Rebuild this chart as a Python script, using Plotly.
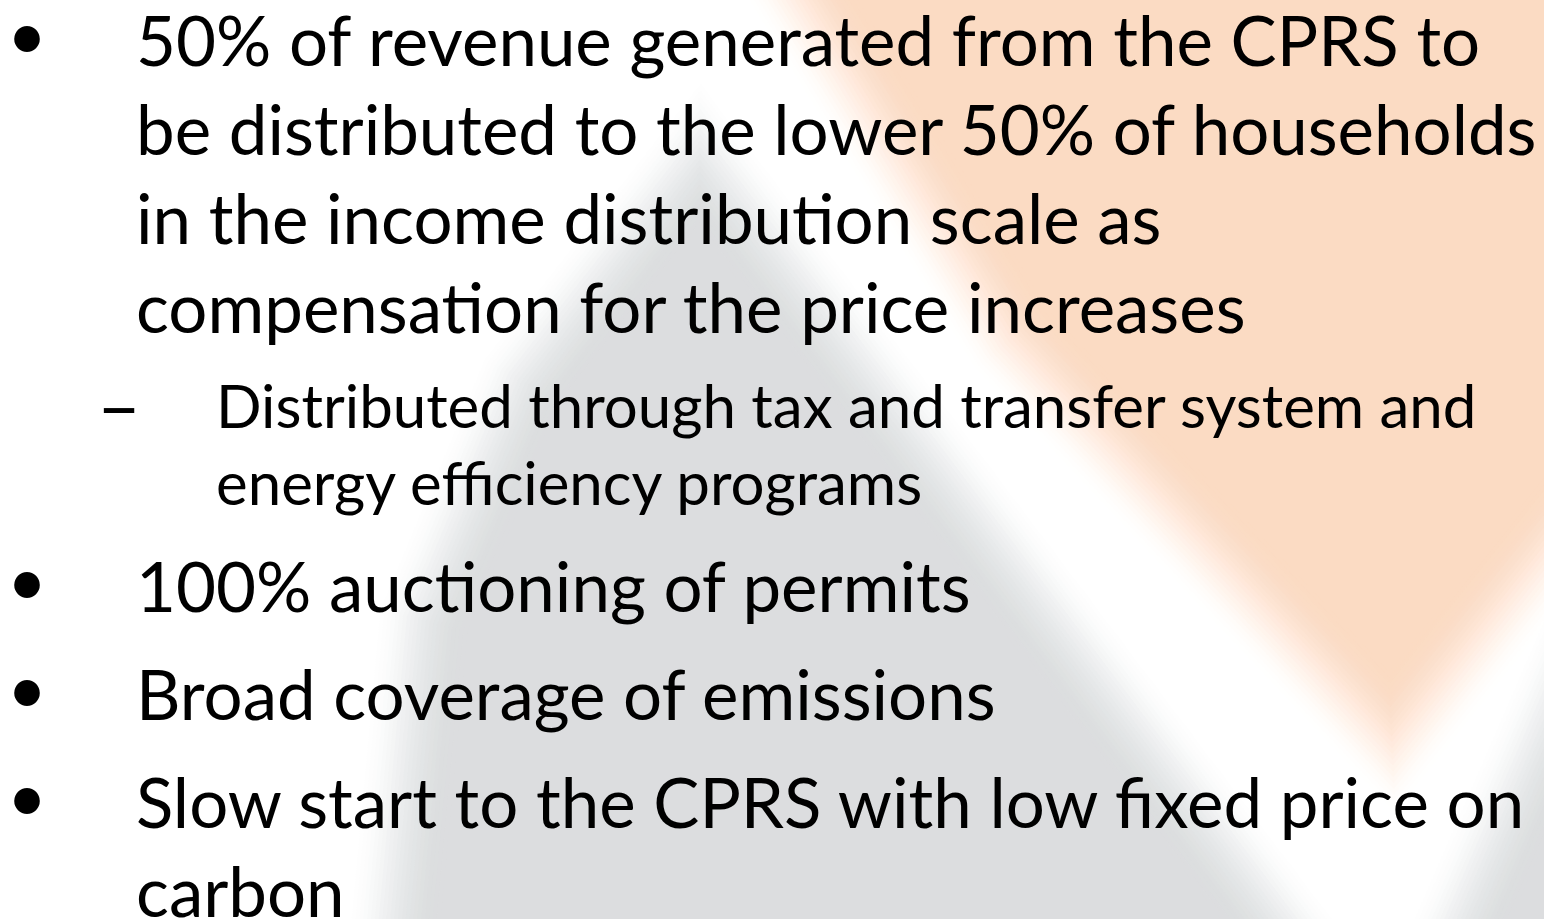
import plotly.graph_objects as go

# slide text
main_lines = [
    "50% of revenue generated from the CPRS to",
    "be distributed to the lower 50% of households",
    "in the income distribution scale as",
    "compensation for the price increases",
]
sub_lines = [
    "Distributed through tax and transfer system and",
    "energy efficiency programs",
]
other_bullets = [
    ["100% auctioning of permits"],
    ["Broad coverage of emissions"],
    ["Slow start to the CPRS with low fixed price on", "carbon"],
]

W, H = 1544, 919
FONT = "Lato"
MAIN_SIZE = 69
SUB_SIZE = 60
DASH_SIZE = 76
TEXT_X = 134
SUB_X = 214
BULLET_X = 27
DASH_X = 95
LINE_STEP = 89
SUB_STEP = 77
PARA_GAP = 19

ORANGE = (251, 219, 195)
GRAY = (220, 221, 223)

# background blobs (pixel coords, y down)
orange_blob = [(740, -100), (1700, -100), (1700, 360), (1392, 745), (1010, 340)]
gray_blob = [(700, 150), (1380, 1050), (380, 1050), (420, 620), (520, 380)]
gray_corner = [(1580, 640), (1800, 640), (1800, 1100), (1380, 1100)]


def inset(poly, d):
    """Offset a convex polygon inward by d pixels (negative grows it)."""
    n = len(poly)
    area = sum(poly[i][0] * poly[(i + 1) % n][1] - poly[(i + 1) % n][0] * poly[i][1] for i in range(n))
    sign = 1 if area > 0 else -1
    lines = []
    for i in range(n):
        x1, y1 = poly[i]
        x2, y2 = poly[(i + 1) % n]
        dx, dy = x2 - x1, y2 - y1
        ln = (dx * dx + dy * dy) ** 0.5
        nx, ny = -dy / ln * sign, dx / ln * sign
        lines.append(((x1 + nx * d, y1 + ny * d), (dx, dy)))
    pts = []
    for i in range(n):
        (p1, v1), (p2, v2) = lines[i - 1], lines[i]
        den = v1[0] * v2[1] - v1[1] * v2[0]
        t = ((p2[0] - p1[0]) * v2[1] - (p2[1] - p1[1]) * v2[0]) / den
        pts.append((p1[0] + v1[0] * t, p1[1] + v1[1] * t))
    return pts


def soft_shape(poly, rgb, radius=50, steps=26):
    # stack of inset copies -> blurred edge like the slide artwork
    shapes = []
    prev = 0.0
    for k in range(steps):
        d = -radius + (k + 0.5) * 2 * radius / steps
        t = (k + 1) / steps
        c = t * t * (3 - 2 * t)
        a = (c - prev) / (1 - prev) if prev < 1 else 1
        prev = c
        pts = inset(poly, d)
        path = "M " + " L ".join(f"{x:.1f},{y:.1f}" for x, y in pts) + " Z"
        shapes.append(dict(
            type="path", path=path, xref="x", yref="y", layer="below",
            fillcolor=f"rgba({rgb[0]},{rgb[1]},{rgb[2]},{min(a, 1):.4f})",
            line=dict(width=0),
        ))
    return shapes


shapes = []
for blob, col in [(orange_blob, ORANGE), (gray_blob, GRAY), (gray_corner, GRAY)]:
    shapes += soft_shape(blob, col)

annotations = []


def add_text(txt, x, baseline, size, anchor="left"):
    annotations.append(dict(
        text=txt, x=x, y=baseline - 0.387 * size, xref="x", yref="y",
        xanchor=anchor, yanchor="middle", showarrow=False,
        font=dict(family=FONT, size=size, color="black"),
    ))


base = 66
add_text("•", BULLET_X, base - 6, MAIN_SIZE, "center")
for i, line in enumerate(main_lines):
    add_text(line, TEXT_X, base + i * LINE_STEP, MAIN_SIZE)
base = base + (len(main_lines) - 1) * LINE_STEP + 95
add_text("–", DASH_X, base + 5, DASH_SIZE)
for i, line in enumerate(sub_lines):
    add_text(line, SUB_X, base + i * SUB_STEP, SUB_SIZE)
base = base + (len(sub_lines) - 1) * SUB_STEP + 107
for para in other_bullets:
    add_text("•", BULLET_X, base - 6, MAIN_SIZE, "center")
    for i, line in enumerate(para):
        add_text(line, TEXT_X, base + i * LINE_STEP, MAIN_SIZE)
    base = base + (len(para) - 1) * LINE_STEP + LINE_STEP + PARA_GAP

fig = go.Figure()
fig.update_layout(
    width=W, height=H,
    margin=dict(l=0, r=0, t=0, b=0),
    paper_bgcolor="white", plot_bgcolor="white",
    xaxis=dict(range=[0, W], visible=False, fixedrange=True),
    yaxis=dict(range=[H, 0], visible=False, fixedrange=True),
    shapes=shapes,
    annotations=annotations,
    showlegend=False,
)

# page body has a default 8px margin; drop it so the slide fills the window
fig.write_html("out.html", config={"displayModeBar": False},
               post_script="document.body.style.margin='0';")
